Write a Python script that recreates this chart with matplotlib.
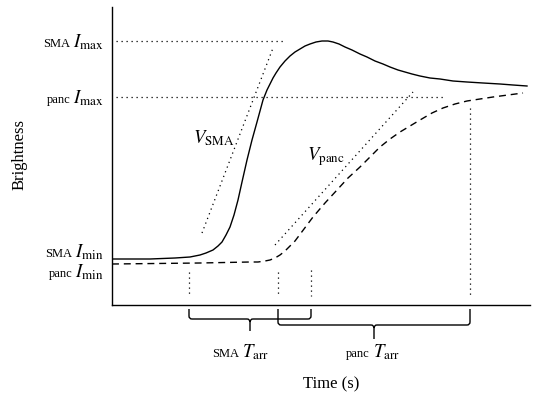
import matplotlib
matplotlib.use("Agg")
import matplotlib.pyplot as plt
from matplotlib.path import Path
from matplotlib.patches import PathPatch

plt.rcParams['font.family'] = ['Liberation Serif', 'DejaVu Serif']
plt.rcParams['mathtext.fontset'] = 'stix'

# SMA brightness curve (solid)
sma_time = [0, 38, 63, 78, 83, 88, 94, 101, 106, 110, 114, 118, 122, 126, 130, 135, 140,
            145, 151, 155, 158, 161, 164, 168, 173, 178, 183, 188, 193, 198, 204, 210, 216,
            221, 227, 233, 240, 248, 255, 263, 271, 278, 286, 293, 300, 308, 318, 328, 341,
            355, 371, 388, 401, 415]
sma_bright = [46, 46, 47, 48, 49, 50, 52, 55, 59, 63, 70, 78, 90, 105, 123, 145, 165,
              183, 205, 215, 221, 227, 232, 238, 244, 249, 253, 256, 259, 261, 263, 264, 264,
              263, 261, 258, 255, 251, 248, 244, 241, 238, 235, 233, 231, 229, 227, 226, 224,
              223, 222, 221, 220, 219]

# pancreas brightness curve (dashed)
panc_time = [0, 88, 138, 146, 153, 158, 163, 168, 173, 178, 183, 192, 201, 213, 225, 236,
             248, 258, 268, 278, 288, 298, 308, 320, 331, 343, 355, 368, 381, 396, 411]
panc_bright = [41, 42, 43, 43, 44, 45, 47, 50, 54, 59, 64, 76, 88, 102, 115, 127,
               138, 148, 158, 166, 173, 179, 185, 192, 197, 201, 204, 206, 208, 210, 212]

# levels / tangents / arrival times
sma_imax = 264
panc_imax = 208
sma_imax_end = 171
panc_imax_end = 333
v_sma_t = [90, 161]
v_sma_b = [72, 257]
v_panc_t = [163, 301]
v_panc_b = [60, 213]
sma_tarr = [77, 199]
panc_tarr = [166, 358]
marker_top = [33, 33, 35, 197]

W, H = 534, 394
fig = plt.figure(figsize=(W / 100, H / 100), dpi=100)
ax = fig.add_axes([112 / W, 89 / H, 418 / W, 298 / H])
ax.set_xlim(0, 418)
ax.set_ylim(0, 298)
ax.set_xticks([])
ax.set_yticks([])
for s in ['top', 'right']:
    ax.spines[s].set_visible(False)
for s in ['left', 'bottom']:
    ax.spines[s].set_linewidth(1.0)

dot = (0, (1, 3))
ax.plot(sma_time, sma_bright, color='black', lw=1.0, solid_joinstyle='round')
ax.plot(panc_time, panc_bright, color='black', lw=1.0, ls=(0, (5, 3.5)),
        dash_joinstyle='round')
ax.plot([4, sma_imax_end], [sma_imax, sma_imax], color='black', lw=0.9, ls=dot)
ax.plot([4, panc_imax_end], [panc_imax, panc_imax], color='black', lw=0.9, ls=dot)
ax.plot(v_sma_t, v_sma_b, color='black', lw=0.9, ls=dot)
ax.plot(v_panc_t, v_panc_b, color='black', lw=0.9, ls=dot)
for t, top in zip(sma_tarr + panc_tarr, [marker_top[0], marker_top[2], marker_top[1], marker_top[3]]):
    ax.plot([t, t], [top, 9], color='black', lw=0.9, ls=dot)


def brace(x0, x1, top, h, tip, r=3):
    c = (x0 + x1) / 2
    verts = [(x0, top), (x0, h + r), (x0, h), (x0 + r, h), (c - r, h), (c, h), (c, h - r),
             (c, tip), (c, h - r), (c, h), (c + r, h), (x1 - r, h), (x1, h), (x1, h + r), (x1, top)]
    codes = [Path.MOVETO, Path.LINETO, Path.CURVE3, Path.CURVE3, Path.LINETO, Path.CURVE3,
             Path.CURVE3, Path.LINETO, Path.MOVETO, Path.CURVE3, Path.CURVE3, Path.LINETO,
             Path.CURVE3, Path.CURVE3, Path.LINETO]
    ax.add_patch(PathPatch(Path(verts, codes), fill=False, lw=1.0, color='black',
                           clip_on=False))


brace(sma_tarr[0], sma_tarr[1], -4, -14, -26)
brace(panc_tarr[0], panc_tarr[1], -4, -20, -34)

renderer = fig.canvas.get_renderer()


def ftext(px, py, s, **kw):
    return fig.text(px / W, 1 - py / H, s, va='baseline', **kw)


def prefixed(px, py, prefix, main, ha):
    t = ftext(px, py, main, ha=ha, fontsize=13.5)
    bb = t.get_window_extent(renderer)
    ftext(bb.x0 - 3, py, prefix, ha='right', fontsize=9)


prefixed(104, 47, 'SMA', r'$I_{\mathrm{max}}$', 'right')
prefixed(104, 103, 'panc', r'$I_{\mathrm{max}}$', 'right')
prefixed(104, 257, 'SMA', r'$I_{\mathrm{min}}$', 'right')
prefixed(104, 277, 'panc', r'$I_{\mathrm{min}}$', 'right')
prefixed(242, 357, 'SMA', r'$T_{\mathrm{arr}}$', 'left')
prefixed(373, 357, 'panc', r'$T_{\mathrm{arr}}$', 'left')

ftext(193, 143, r'$V_{\mathrm{SMA}}$', fontsize=13.5)
ftext(307, 160, r'$V_{\mathrm{panc}}$', fontsize=13.5)

ftext(331, 388, 'Time (s)', ha='center', fontsize=12)
fig.text(20 / W, 1 - 155 / H, 'Brightness', rotation=90, ha='center', va='center',
         fontsize=12)

fig.savefig('out.png', dpi=100)
